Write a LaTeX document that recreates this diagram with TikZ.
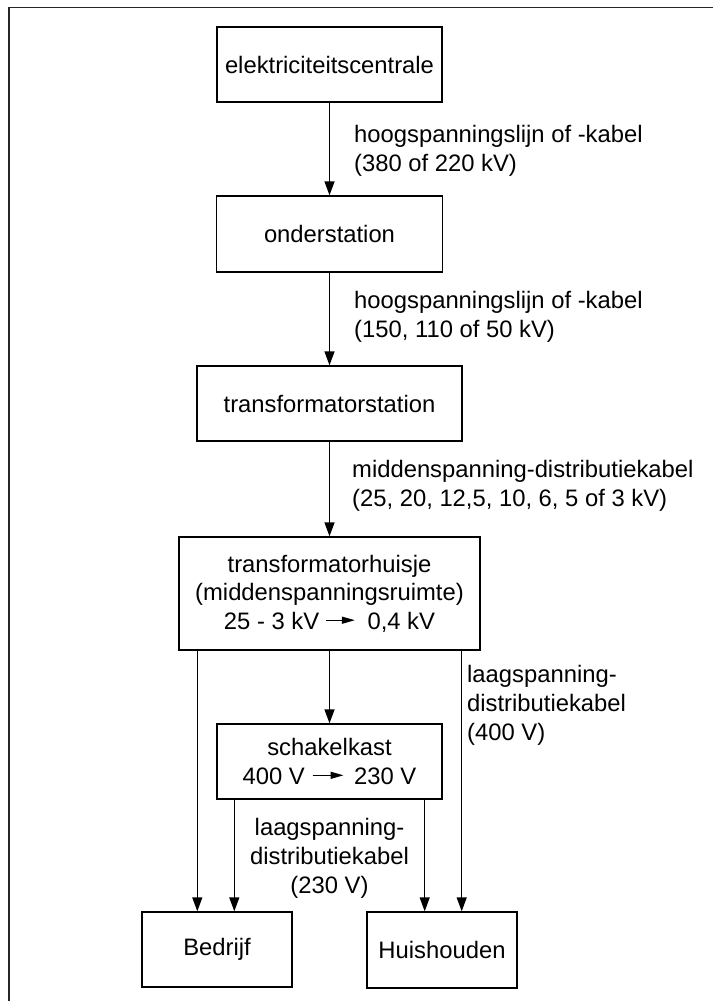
\documentclass[tikz,border=0pt]{standalone}
\usepackage{fontspec}
\setmainfont{Liberation Sans}
\usetikzlibrary{arrows.meta}
\newcommand{\inarr}[1]{\tikz[baseline=0pt]\draw[line width=1.3pt,-{Triangle[length=13pt,width=7pt]}] (0pt,9pt) -- (#1,9pt);}
\begin{document}
\begin{tikzpicture}[x=1pt,y=-1pt,
  every node/.append style={font=\fontsize{23.8}{28.6}\selectfont},
  box/.style={draw,line width=1.4pt,align=center,inner sep=0pt},
  lab/.style={align=left,inner sep=0pt,anchor=base west},
  arr/.style={line width=1.4pt,-{Triangle[length=14pt,width=10pt]}}]
\useasboundingbox (0,0) rectangle (713,1001);
\draw[line width=1.4pt,black!85] (713,7.5) -- (9,7.5) -- (9,1001);
% boxes
\node[box,minimum width=225pt,minimum height=75pt] (A) at (329.5,64.5) {elektriciteitscentrale};
\node[box,minimum width=226pt,minimum height=76pt] (B) at (329.5,234) {onderstation};
\node[box,minimum width=265pt,minimum height=75pt] (C) at (329.5,403.5) {transformatorstation};
\node[box,minimum width=301pt,minimum height=113pt] (D) at (329.5,593.5)
  {transformatorhuisje\\(middenspanningsruimte)\\25 - 3 kV\hspace{6pt}\inarr{29pt}\hspace{12pt}0,4 kV};
\node[box,minimum width=225pt,minimum height=75pt] (E) at (329.5,761.5)
  {schakelkast\\400 V\hspace{7pt}\inarr{31pt}\hspace{10pt}230 V};
\node[box,minimum width=150pt,minimum height=75pt] (F) at (217,949.5) {Bedrijf};
\node[box,minimum width=150pt,minimum height=76pt] (G) at (442,950) {Huishouden};
% labels (anchor at baseline of last line)
\node[lab] (l1) at (354,171) {hoogspanningslijn of -kabel\\(380 of 220 kV)};
\node[lab] (l2) at (354,337) {hoogspanningslijn of -kabel\\(150, 110 of 50 kV)};
\node[lab] (l3) at (352,506) {middenspanning-distributiekabel\\(25, 20, 12,5, 10, 6, 5 of 3 kV)};
\node[lab] (l4) at (467,740) {laagspanning-\\distributiekabel\\(400 V)};
\node[align=center,inner sep=0pt,anchor=base] (l5) at (329.5,893) {laagspanning-\\distributiekabel\\(230 V)};
% connectors
\draw[arr] (A.south) -- (B.north);
\draw[arr] (B.south) -- (C.north);
\draw[arr] (C.south) -- (D.north);
\draw[arr] (D.south) -- (E.north);
\draw[arr] ([xshift=19pt]D.south west) -- ([xshift=19pt]D.south west |- F.north);
\draw[arr] ([xshift=-19pt]D.south east) -- ([xshift=-19pt]D.south east |- G.north);
\draw[arr] ([xshift=18pt]E.south west) -- ([xshift=18pt]E.south west |- F.north);
\draw[arr] ([xshift=-18pt]E.south east) -- ([xshift=-18pt]E.south east |- G.north);
\end{tikzpicture}
\end{document}
